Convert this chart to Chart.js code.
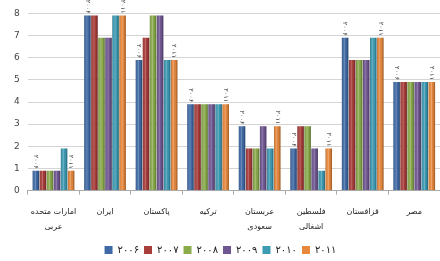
<!DOCTYPE html>
<html>
<head>
<meta charset="utf-8">
<script src="https://cdn.jsdelivr.net/npm/chart.js@4.4.0/dist/chart.umd.min.js"></script>
<style>
  html, body { margin: 0; padding: 0; background: #fff; }
  #wrap { width: 440px; height: 261px; }
</style>
</head>
<body>
<div id="wrap"><canvas id="chart"></canvas></div>
<script>
// Categories (countries) and yearly values
const categories = [
  ['امارات متحده', 'عربی'],
  'ایران',
  'پاکستان',
  'ترکیه',
  ['عربستان', 'سعودی'],
  ['فلسطین', 'اشغالی'],
  'قزاقستان',
  'مصر'
];
const years = ['۲۰۰۶', '۲۰۰۷', '۲۰۰۸', '۲۰۰۹', '۲۰۱۰', '۲۰۱۱'];
const values2006 = [0.9, 7.9, 5.9, 3.9, 2.9, 1.9, 6.9, 4.9];
const values2007 = [0.9, 7.9, 6.9, 3.9, 1.9, 2.9, 5.9, 4.9];
const values2008 = [0.9, 6.9, 7.9, 3.9, 1.9, 2.9, 5.9, 4.9];
const values2009 = [0.9, 6.9, 7.9, 3.9, 2.9, 1.9, 5.9, 4.9];
const values2010 = [1.9, 7.9, 5.9, 3.9, 1.9, 0.9, 6.9, 4.9];
const values2011 = [0.9, 7.9, 5.9, 3.9, 2.9, 1.9, 6.9, 4.9];
const yTicks = [0, 1, 2, 3, 4, 5, 6, 7, 8];

const seriesValues = [values2006, values2007, values2008, values2009, values2010, values2011];
const colors = ['#3f6aa6', '#a83c39', '#8aab4b', '#6f5692', '#3d9bb4', '#e8883c'];
const fontFamily = '"DejaVu Sans", sans-serif';

// Shading so the bars look like cylinders
const cylinderShade = {
  id: 'cylinderShade',
  afterDatasetsDraw(chart) {
    const ctx = chart.ctx;
    chart.data.datasets.forEach((ds, i) => {
      chart.getDatasetMeta(i).data.forEach(bar => {
        const left = bar.x - bar.width / 2;
        const g = ctx.createLinearGradient(left, 0, left + bar.width, 0);
        g.addColorStop(0, 'rgba(0,0,0,0.25)');
        g.addColorStop(0.3, 'rgba(255,255,255,0.05)');
        g.addColorStop(0.45, 'rgba(255,255,255,0.25)');
        g.addColorStop(0.65, 'rgba(0,0,0,0)');
        g.addColorStop(1, 'rgba(0,0,0,0.35)');
        ctx.save();
        ctx.fillStyle = g;
        ctx.fillRect(left, bar.y, bar.width, bar.base - bar.y);
        ctx.restore();
      });
    });
  }
};

// Year labels above first and last bar of each group
const yearLabels = {
  id: 'yearLabels',
  afterDatasetsDraw(chart) {
    const ctx = chart.ctx;
    [0, 5].forEach(i => {
      chart.getDatasetMeta(i).data.forEach(bar => {
        ctx.save();
        ctx.translate(bar.x, bar.y - 2);
        ctx.rotate(Math.PI / 2);
        ctx.font = '6.5px ' + fontFamily;
        ctx.fillStyle = '#222';
        ctx.textAlign = 'right';
        ctx.textBaseline = 'middle';
        ctx.fillText(years[i], 0, 0);
        ctx.restore();
      });
    });
  }
};

new Chart(document.getElementById('chart'), {
  type: 'bar',
  data: {
    labels: categories,
    datasets: seriesValues.map((vals, i) => ({
      label: years[i],
      data: vals,
      backgroundColor: colors[i],
      borderWidth: 0,
      categoryPercentage: 0.82,
      barPercentage: 0.92
    }))
  },
  options: {
    responsive: true,
    maintainAspectRatio: false,
    animation: false,
    layout: { padding: { left: 6, right: 0, top: 7, bottom: -4 } },
    scales: {
      y: {
        min: 0,
        max: 8,
        afterBuildTicks: axis => { axis.ticks = yTicks.map(v => ({ value: v })); },
        grid: { color: '#d4d4d4', drawTicks: false },
        border: { display: false },
        ticks: { font: { size: 9, family: fontFamily }, color: '#444', padding: 8 }
      },
      x: {
        grid: { drawOnChartArea: false, color: '#aaa', tickLength: 4, offset: true },
        border: { color: '#aaa' },
        ticks: {
          font: { size: 8, family: fontFamily, lineHeight: 1.9 },
          color: '#222',
          padding: 10,
          maxRotation: 0,
          autoSkip: false
        }
      }
    },
    plugins: {
      legend: {
        position: 'bottom',
        labels: {
          boxWidth: 8,
          boxHeight: 8,
          padding: 0,
          font: { size: 10, family: fontFamily },
          color: '#222',
          generateLabels: chart => Chart.defaults.plugins.legend.labels.generateLabels(chart)
            .map(item => Object.assign(item, { text: item.text + '\u2002' }))
        }
      },
      tooltip: { enabled: false }
    }
  },
  plugins: [cylinderShade, yearLabels]
});
</script>
</body>
</html>
